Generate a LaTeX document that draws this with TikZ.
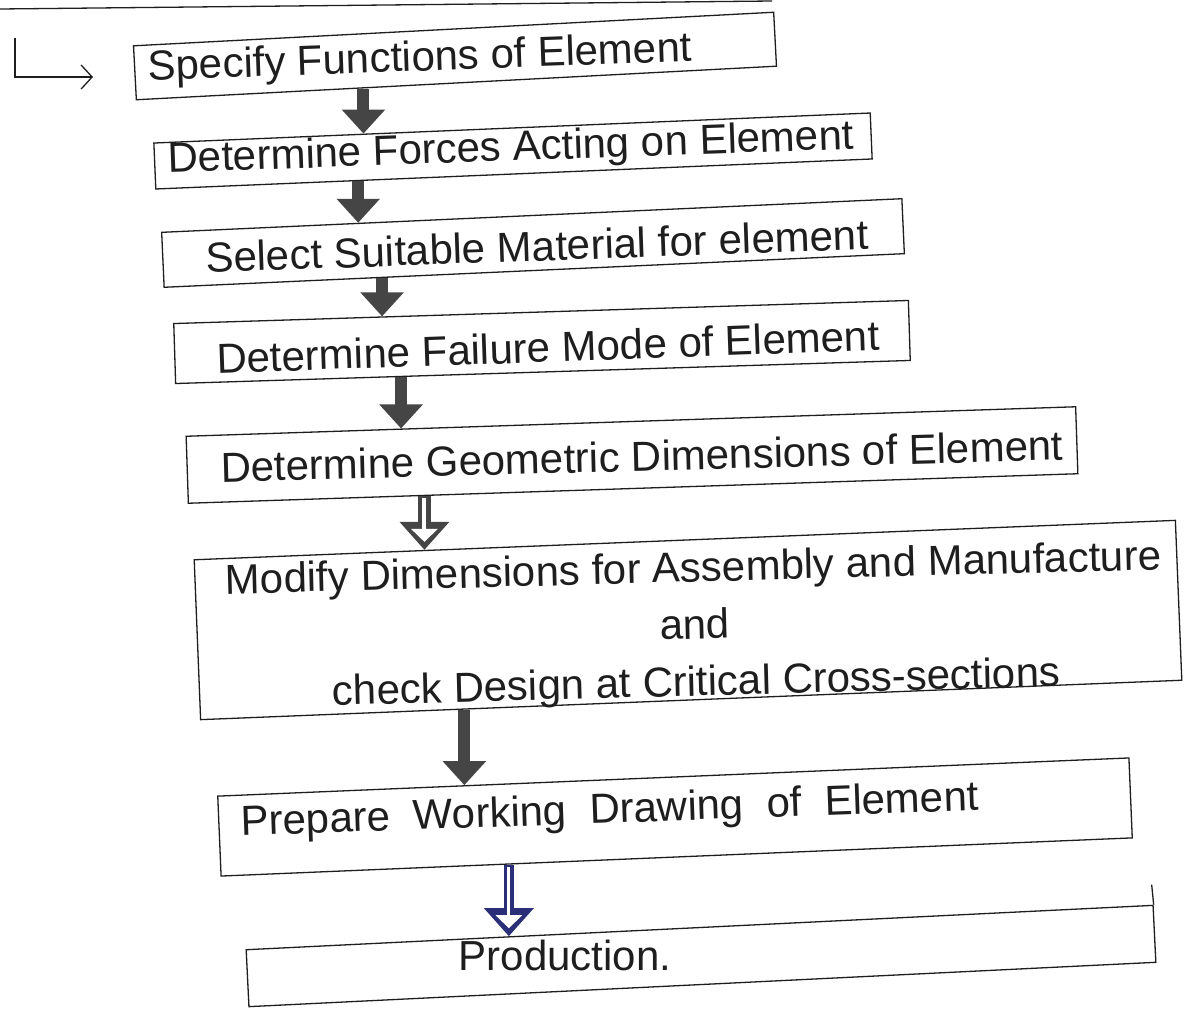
\documentclass[tikz,border=0pt]{standalone}
\usepackage{fontspec}
\setmainfont{Liberation Sans}
\usetikzlibrary{calc,arrows.meta}
\definecolor{ink}{HTML}{1E1E1E}
\definecolor{arrowgray}{HTML}{454545}
\definecolor{navy}{HTML}{2A2F78}
\tikzset{
  stepbox/.style={draw=ink, line width=1.3pt, inner sep=0pt},
  steptext/.style={inner sep=0pt, text=ink, font=\fontsize{42}{57}\selectfont},
  solidarrow/.style={draw=arrowgray, line width=12pt, -{Triangle[width=42pt,length=24pt]}},
  hollowout/.style={draw=#1, line width=13pt, -{Triangle[width=48pt,length=28pt]}},
  hollowin/.style={draw=white, line width=4pt, shorten <=2pt, shorten >=8pt, -{Triangle[width=26pt,length=13pt]}},
}
\begin{document}
\begin{tikzpicture}[x=1pt,y=-1pt]
\useasboundingbox (0,0) rectangle (1190,1009);
\fill[white] (0,0) rectangle (1190,1009);

% bottom edge of the box above (cut off)
\coordinate (top0) at (0,9);
\coordinate (top1) at (772,1);
\draw[ink, line width=1.3pt] (top0) -- (top1);

% boxes
\node[stepbox, minimum width=641pt, minimum height=54pt, rotate=3] (b1) at (455,56) {};
\node[stepbox, minimum width=717pt, minimum height=46pt, rotate=2.4] (b2) at (513,151) {};
\node[stepbox, minimum width=741pt, minimum height=55pt, rotate=2.6] (b3) at (533,243) {};
\node[stepbox, minimum width=735pt, minimum height=60pt, rotate=1.8] (b4) at (542,342) {};
\node[stepbox, minimum width=890pt, minimum height=67pt, rotate=1.9] (b5) at (632,455) {};
\node[stepbox, minimum width=982pt, minimum height=160pt, rotate=2.3] (b6) at (688,620) {};
\node[stepbox, minimum width=912pt, minimum height=80pt, rotate=2.4] (b7) at (675,817) {};
\node[stepbox, minimum width=908pt, minimum height=57pt, rotate=2.8] (b8) at (701,956) {};
\coordinate (b8over) at ($(b8.north east)+(-2,-20)$);
\draw[ink, line width=1.3pt] (b8over) -- (b8.north east);

% texts
\node[steptext, rotate=2] (t1) at (420,60) {Specify Functions of Element};
\node[steptext, rotate=2] (t2) at (511,150) {Determine Forces Acting on Element};
\node[steptext, rotate=2] (t3) at (537,246) {Select Suitable Material for element};
\node[steptext, rotate=2] (t4) at (548,347) {Determine Failure Mode of Element};
\node[steptext, rotate=1.5] (t5) at (642,456) {Determine Geometric Dimensions of Element};
\node[steptext, rotate=1.5, align=center] (t6) at (695,628) {Modify Dimensions for Assembly and Manufacture\\and\\check Design at Critical Cross-sections};
\node[steptext, rotate=2] (t7) at (610,812) {\spaceskip=0.55em\relax Prepare Working Drawing of Element};
\node[steptext] (t8) at (565,955) {Production.};

% L-shaped entry arrow
\coordinate (l0) at (15,38);
\coordinate (l1) at (93,77);
\draw[ink, line width=1.3pt, -{Straight Barb[length=11pt,width=24pt]}] (l0) |- (l1);

% connectors
\coordinate (p1) at ($(b1.south west)!0.35!(b1.south east)$);
\coordinate (q1) at ($(b2.north west)!0.293!(b2.north east)$);
\draw[solidarrow] (q1 |- p1) -- (q1);

\coordinate (p2) at ($(b2.south west)!0.279!(b2.south east)$);
\coordinate (q2) at ($(b3.north west)!0.266!(b3.north east)$);
\draw[solidarrow] (q2 |- p2) -- (q2);

\coordinate (p3) at ($(b3.south west)!0.288!(b3.south east)$);
\coordinate (q3) at ($(b4.north west)!0.284!(b4.north east)$);
\draw[solidarrow] (q3 |- p3) -- (q3);

\coordinate (p4) at ($(b4.south west)!0.302!(b4.south east)$);
\coordinate (q4) at ($(b5.north west)!0.242!(b5.north east)$);
\draw[solidarrow] (q4 |- p4) -- (q4);

\coordinate (p5) at ($(b5.south west)!0.26!(b5.south east)$);
\coordinate (q5) at ($(b6.north west)!0.235!(b6.north east)$);
\draw[hollowout=arrowgray] (q5 |- p5) -- (q5);
\draw[hollowin] (q5 |- p5) -- (q5);

\coordinate (p6) at ($(b6.south west)!0.261!(b6.south east)$);
\coordinate (q6) at ($(b7.north west)!0.271!(b7.north east)$);
\draw[solidarrow] (q6 |- p6) -- (q6);

\coordinate (p7) at ($(b7.south west)!0.311!(b7.south east)$);
\coordinate (q7) at ($(b8.north west)!0.29!(b8.north east)$);
\draw[hollowout=navy, line width=10pt] (q7 |- p7) -- (q7);
\draw[hollowin, line width=3pt] (q7 |- p7) -- (q7);
\end{tikzpicture}
\end{document}
